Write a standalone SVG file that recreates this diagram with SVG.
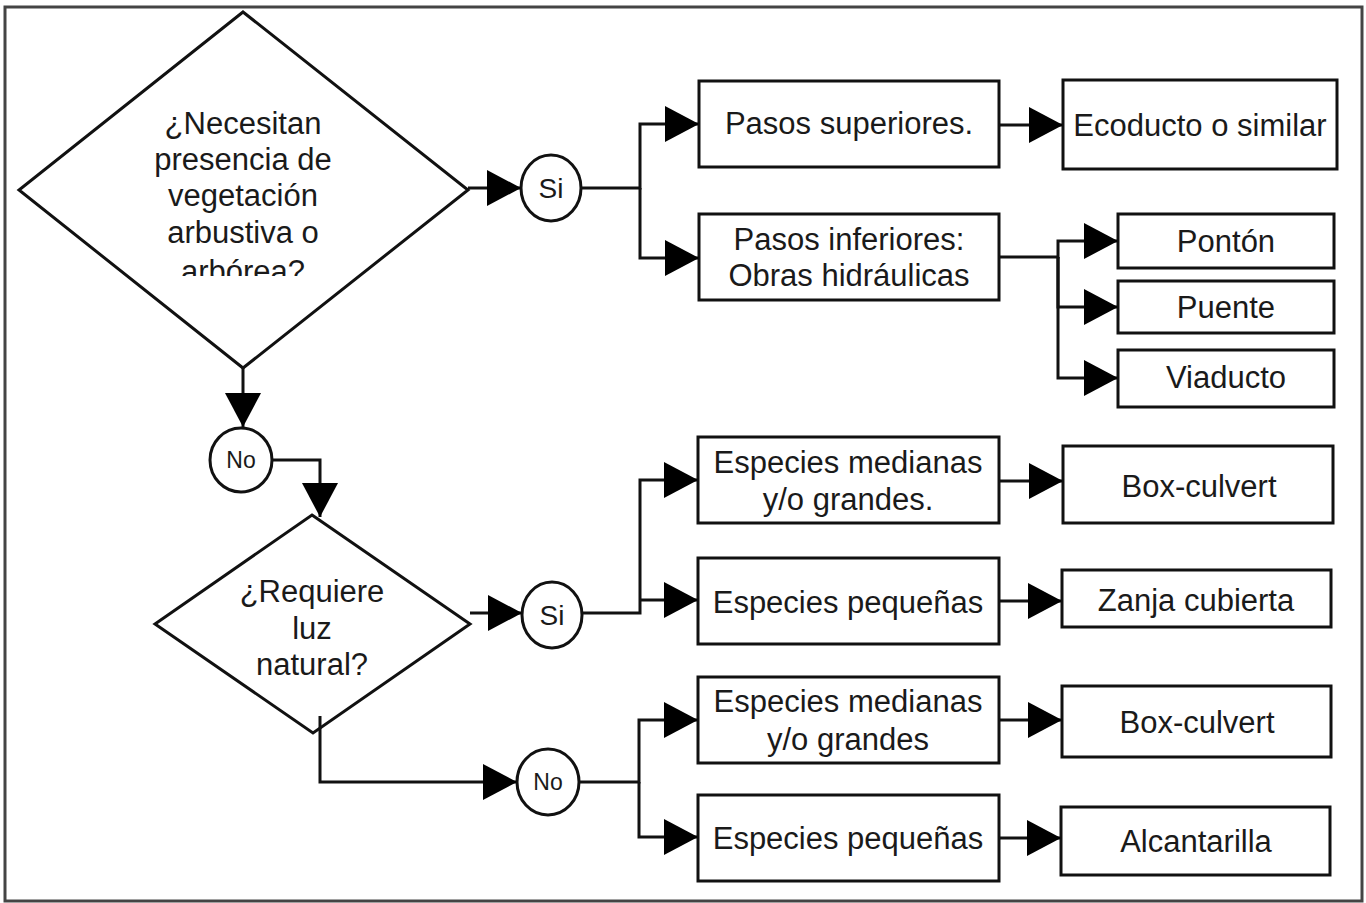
<svg xmlns="http://www.w3.org/2000/svg" width="1366" height="903" viewBox="0 0 1366 903">
<defs>
<style>
.shape{fill:#fff;stroke:#111;stroke-width:3}
.conn{fill:none;stroke:#111;stroke-width:3}
.t{font-family:"Liberation Sans",Arial,sans-serif;font-size:31px;fill:#1a1a1a;text-anchor:middle}
.ts{font-family:"Liberation Sans",Arial,sans-serif;font-size:28px;fill:#1a1a1a;text-anchor:middle}
.tn{font-family:"Liberation Sans",Arial,sans-serif;font-size:23px;fill:#1a1a1a;text-anchor:middle}
</style>
<marker id="arr" markerUnits="userSpaceOnUse" markerWidth="34" markerHeight="36" viewBox="0 0 34 36" refX="34" refY="18" orient="auto">
<path d="M0,0 L34,18 L0,36 z" fill="#000"/>
</marker>
<clipPath id="clipD1"><rect x="0" y="0" width="500" height="276"/></clipPath>
</defs>
<rect x="0" y="0" width="1366" height="903" fill="#fff"/>
<rect x="5" y="7" width="1357" height="894" fill="none" stroke="#444" stroke-width="3"/>

<g id="d1">
<polygon class="shape" points="243,12 468,190 243,368 19,190"/>
<g clip-path="url(#clipD1)">
<text class="t" x="243" y="134">¿Necesitan</text>
<text class="t" x="243" y="170">presencia de</text>
<text class="t" x="243" y="206">vegetación</text>
<text class="t" x="243" y="243">arbustiva o</text>
<text class="t" x="243" y="282">arbórea?</text>
</g>
</g>

<g id="si1">
<ellipse class="shape" cx="551" cy="188" rx="30" ry="33"/>
<text class="ts" x="551" y="198">Si</text>
</g>

<g id="pasos-sup">
<rect class="shape" x="699" y="81" width="300" height="86"/>
<text class="t" x="849" y="134">Pasos superiores.</text>
</g>
<g id="ecoducto">
<rect class="shape" x="1063" y="80" width="274" height="89"/>
<text class="t" x="1200" y="136">Ecoducto o similar</text>
</g>
<g id="pasos-inf">
<rect class="shape" x="699" y="214" width="300" height="86"/>
<text class="t" x="849" y="250">Pasos inferiores:</text>
<text class="t" x="849" y="286">Obras hidráulicas</text>
</g>
<g id="ponton">
<rect class="shape" x="1118" y="214" width="216" height="54"/>
<text class="t" x="1226" y="252">Pontón</text>
</g>
<g id="puente">
<rect class="shape" x="1118" y="281" width="216" height="52"/>
<text class="t" x="1226" y="318">Puente</text>
</g>
<g id="viaducto">
<rect class="shape" x="1118" y="350" width="216" height="57"/>
<text class="t" x="1226" y="388">Viaducto</text>
</g>

<g id="no1">
<ellipse class="shape" cx="241" cy="460" rx="31" ry="32"/>
<text class="tn" x="241" y="468">No</text>
</g>

<g id="d2">
<polygon class="shape" points="312,515 470,624 313,733 155,624"/>
<text class="t" x="312" y="602">¿Requiere</text>
<text class="t" x="312" y="639">luz</text>
<text class="t" x="312" y="675">natural?</text>
</g>

<g id="si2">
<ellipse class="shape" cx="552" cy="615" rx="30" ry="33"/>
<text class="ts" x="552" y="625">Si</text>
</g>

<g id="esp-med-1">
<rect class="shape" x="698" y="437" width="301" height="86"/>
<text class="t" x="848" y="473">Especies medianas</text>
<text class="t" x="848" y="510">y/o grandes.</text>
</g>
<g id="box-culvert-1">
<rect class="shape" x="1063" y="446" width="270" height="77"/>
<text class="t" x="1199" y="497">Box-culvert</text>
</g>
<g id="esp-peq-1">
<rect class="shape" x="698" y="558" width="301" height="86"/>
<text class="t" x="848" y="613">Especies pequeñas</text>
</g>
<g id="zanja">
<rect class="shape" x="1062" y="570" width="269" height="57"/>
<text class="t" x="1196" y="611">Zanja cubierta</text>
</g>

<g id="no2">
<ellipse class="shape" cx="548" cy="782" rx="31" ry="33"/>
<text class="tn" x="548" y="790">No</text>
</g>

<g id="esp-med-2">
<rect class="shape" x="698" y="677" width="301" height="86"/>
<text class="t" x="848" y="712">Especies medianas</text>
<text class="t" x="848" y="750">y/o grandes</text>
</g>
<g id="box-culvert-2">
<rect class="shape" x="1062" y="686" width="269" height="71"/>
<text class="t" x="1197" y="733">Box-culvert</text>
</g>
<g id="esp-peq-2">
<rect class="shape" x="698" y="795" width="301" height="86"/>
<text class="t" x="848" y="849">Especies pequeñas</text>
</g>
<g id="alcantarilla">
<rect class="shape" x="1061" y="807" width="269" height="68"/>
<text class="t" x="1196" y="852">Alcantarilla</text>
</g>

<g id="connectors">
<path class="conn" d="M468,188 H521" marker-end="url(#arr)"/>
<path class="conn" d="M582,188 H640 V124 H699" marker-end="url(#arr)"/>
<path class="conn" d="M640,188 V258 H699" marker-end="url(#arr)"/>
<path class="conn" d="M999,125 H1063" marker-end="url(#arr)"/>
<path class="conn" d="M999,257 H1058 V241 H1118" marker-end="url(#arr)"/>
<path class="conn" d="M1058,257 V307 H1118" marker-end="url(#arr)"/>
<path class="conn" d="M1058,257 V378 H1118" marker-end="url(#arr)"/>
<path class="conn" d="M243,368 V427" marker-end="url(#arr)"/>
<path class="conn" d="M272,460 H320 V517" marker-end="url(#arr)"/>
<path class="conn" d="M470,613 H522" marker-end="url(#arr)"/>
<path class="conn" d="M583,613 H640 V480 H698" marker-end="url(#arr)"/>
<path class="conn" d="M640,600 H698" marker-end="url(#arr)"/>
<path class="conn" d="M999,481 H1063" marker-end="url(#arr)"/>
<path class="conn" d="M999,601 H1062" marker-end="url(#arr)"/>
<path class="conn" d="M320,716 V782 H517" marker-end="url(#arr)"/>
<path class="conn" d="M580,782 H639 V720 H698" marker-end="url(#arr)"/>
<path class="conn" d="M639,782 V837 H698" marker-end="url(#arr)"/>
<path class="conn" d="M999,720 H1062" marker-end="url(#arr)"/>
<path class="conn" d="M999,838 H1061" marker-end="url(#arr)"/>
</g>
</svg>
